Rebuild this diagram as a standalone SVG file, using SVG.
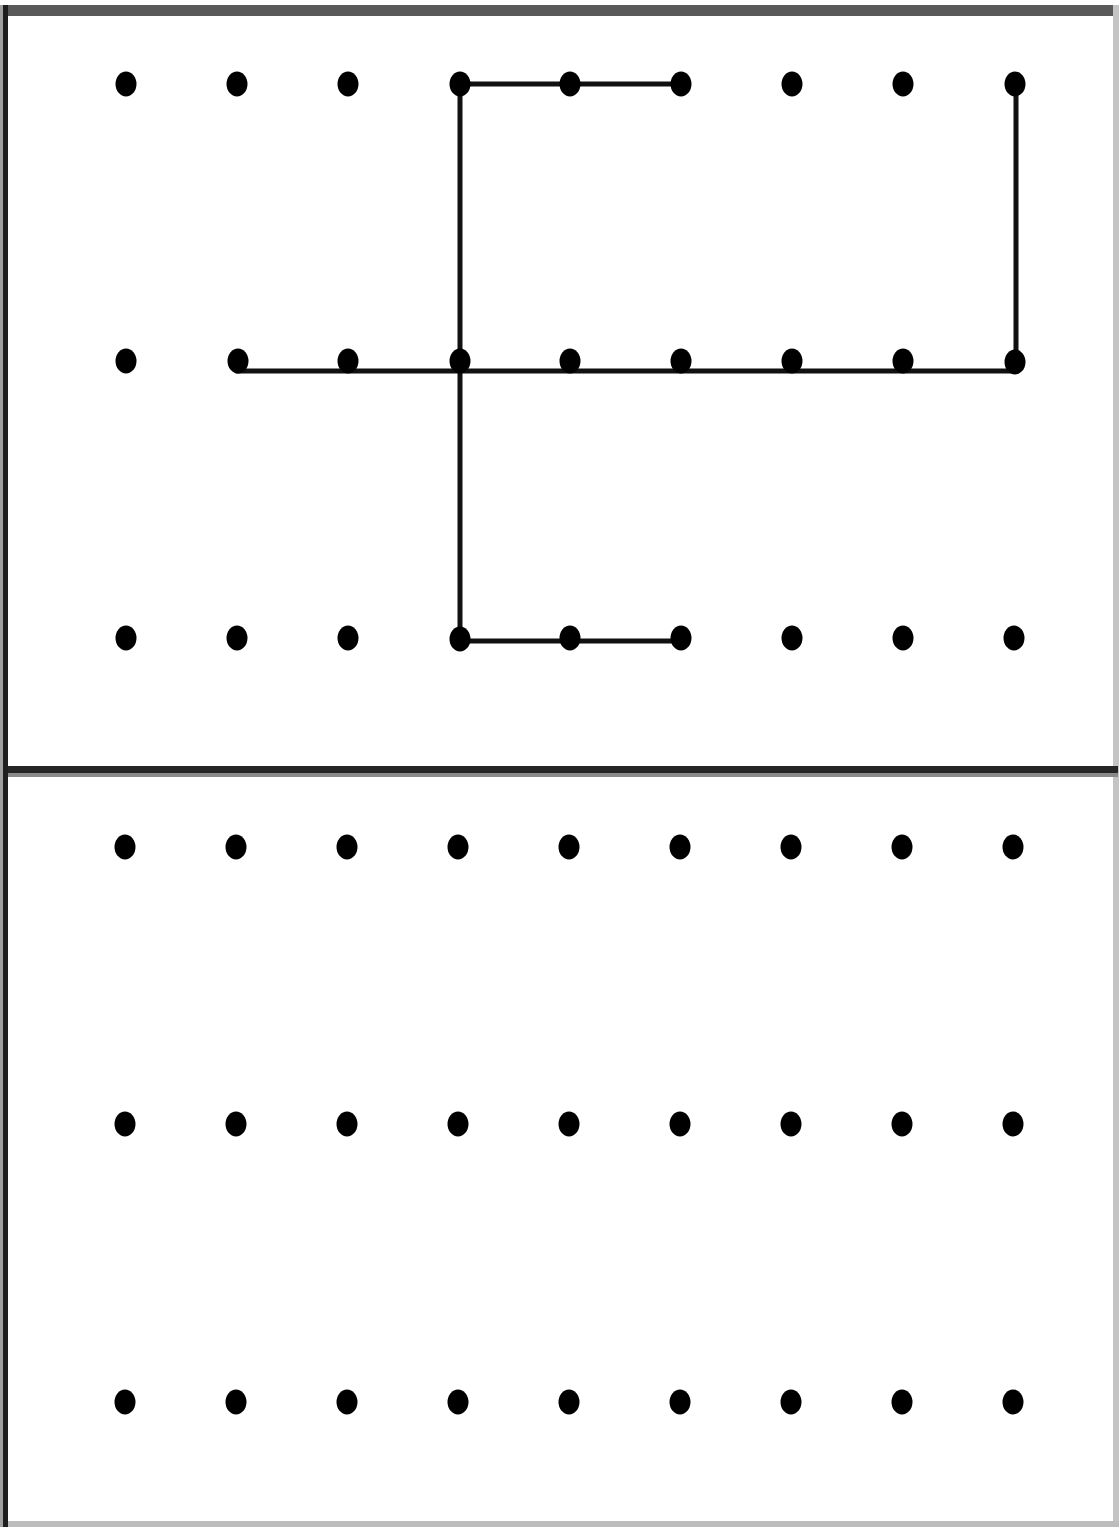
<svg xmlns="http://www.w3.org/2000/svg" width="1120" height="1527" viewBox="0 0 1120 1527">
<style>
.dot{fill:#000}
.edge{stroke:#111;stroke-width:5;fill:none;stroke-linecap:square}
</style>
<defs>
<ellipse id="d" cx="0" cy="0" rx="10.5" ry="12.5" class="dot"/>
</defs>
<rect x="0" y="0" width="1120" height="1527" fill="#fff"/>
<g id="frame">
<rect x="3" y="5" width="1115" height="11" fill="#595959"/>
<rect x="1113" y="5" width="6" height="1522" fill="#c4c4c4"/>
<rect x="3" y="1521" width="1116" height="6" fill="#bcbcbc"/>
<rect x="3" y="766" width="1115" height="7" fill="#262626"/>
<rect x="3" y="773" width="1115" height="4" fill="#8a8a8a"/>
<rect x="0" y="5" width="3" height="1522" fill="#a0a0a0"/>
<rect x="3" y="5" width="5" height="1522" fill="#1e1e1e"/>
</g>
<g id="connectors">
<line class="edge" x1="460" y1="84" x2="681" y2="84"/>
<line class="edge" x1="460" y1="84" x2="460" y2="641"/>
<line class="edge" x1="460" y1="641" x2="681" y2="641"/>
<line class="edge" x1="238" y1="371" x2="1016" y2="371"/>
<line class="edge" x1="1016" y1="84" x2="1016" y2="371"/>
</g>
<g id="top-row1">
<g id="n1-1"><use href="#d" x="126" y="84"/></g>
<g id="n1-2"><use href="#d" x="237" y="84"/></g>
<g id="n1-3"><use href="#d" x="348" y="84"/></g>
<g id="n1-4"><use href="#d" x="460" y="84"/></g>
<g id="n1-5"><use href="#d" x="570" y="84"/></g>
<g id="n1-6"><use href="#d" x="681" y="84"/></g>
<g id="n1-7"><use href="#d" x="792" y="84"/></g>
<g id="n1-8"><use href="#d" x="903" y="84"/></g>
<g id="n1-9"><use href="#d" x="1015" y="84"/></g>
</g>
<g id="top-row2">
<g id="n2-1"><use href="#d" x="126" y="361"/></g>
<g id="n2-2"><use href="#d" x="238" y="361"/></g>
<g id="n2-3"><use href="#d" x="348" y="361"/></g>
<g id="n2-4"><use href="#d" x="460" y="361"/></g>
<g id="n2-5"><use href="#d" x="570" y="361"/></g>
<g id="n2-6"><use href="#d" x="681" y="361"/></g>
<g id="n2-7"><use href="#d" x="792" y="361"/></g>
<g id="n2-8"><use href="#d" x="903" y="361"/></g>
<g id="n2-9"><use href="#d" x="1015" y="362"/></g>
</g>
<g id="top-row3">
<g id="n3-1"><use href="#d" x="126" y="638"/></g>
<g id="n3-2"><use href="#d" x="237" y="638"/></g>
<g id="n3-3"><use href="#d" x="348" y="638"/></g>
<g id="n3-4"><use href="#d" x="460" y="639"/></g>
<g id="n3-5"><use href="#d" x="570" y="638"/></g>
<g id="n3-6"><use href="#d" x="681" y="638"/></g>
<g id="n3-7"><use href="#d" x="792" y="638"/></g>
<g id="n3-8"><use href="#d" x="903" y="638"/></g>
<g id="n3-9"><use href="#d" x="1014" y="638"/></g>
</g>
<g id="bottom-row1">
<g id="m1-1"><use href="#d" x="125" y="847"/></g>
<g id="m1-2"><use href="#d" x="236" y="847"/></g>
<g id="m1-3"><use href="#d" x="347" y="847"/></g>
<g id="m1-4"><use href="#d" x="458" y="847"/></g>
<g id="m1-5"><use href="#d" x="569" y="847"/></g>
<g id="m1-6"><use href="#d" x="680" y="847"/></g>
<g id="m1-7"><use href="#d" x="791" y="847"/></g>
<g id="m1-8"><use href="#d" x="902" y="847"/></g>
<g id="m1-9"><use href="#d" x="1013" y="847"/></g>
</g>
<g id="bottom-row2">
<g id="m2-1"><use href="#d" x="125" y="1124"/></g>
<g id="m2-2"><use href="#d" x="236" y="1124"/></g>
<g id="m2-3"><use href="#d" x="347" y="1124"/></g>
<g id="m2-4"><use href="#d" x="458" y="1124"/></g>
<g id="m2-5"><use href="#d" x="569" y="1124"/></g>
<g id="m2-6"><use href="#d" x="680" y="1124"/></g>
<g id="m2-7"><use href="#d" x="791" y="1124"/></g>
<g id="m2-8"><use href="#d" x="902" y="1124"/></g>
<g id="m2-9"><use href="#d" x="1013" y="1124"/></g>
</g>
<g id="bottom-row3">
<g id="m3-1"><use href="#d" x="125" y="1402"/></g>
<g id="m3-2"><use href="#d" x="236" y="1402"/></g>
<g id="m3-3"><use href="#d" x="347" y="1402"/></g>
<g id="m3-4"><use href="#d" x="458" y="1402"/></g>
<g id="m3-5"><use href="#d" x="569" y="1402"/></g>
<g id="m3-6"><use href="#d" x="680" y="1402"/></g>
<g id="m3-7"><use href="#d" x="791" y="1402"/></g>
<g id="m3-8"><use href="#d" x="902" y="1402"/></g>
<g id="m3-9"><use href="#d" x="1013" y="1402"/></g>
</g>
</svg>
